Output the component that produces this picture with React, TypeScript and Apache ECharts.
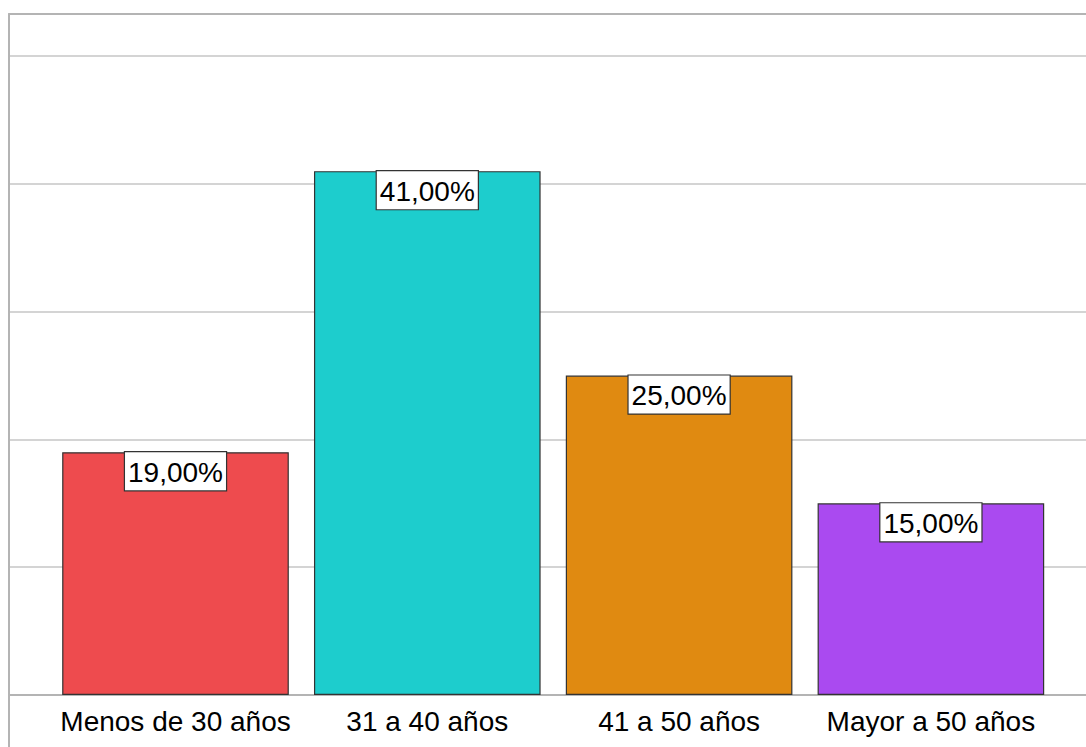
import React, { useEffect, useRef } from "react";
import * as echarts from "echarts";

const categories = ["Menos de 30 años", "31 a 40 años", "41 a 50 años", "Mayor a 50 años"];
const values = [19, 41, 25, 15];
const barColors = ["#EE4B4E", "#1DCDCD", "#E08A11", "#AA4AF0"];
const yMax = 53.3;
const yInterval = 10;

export default function App() {
  const ref = useRef<HTMLDivElement>(null);
  useEffect(() => {
    if (!ref.current) return;
    const chart = echarts.init(ref.current, null, { renderer: "svg" });
    const font = "'Liberation Sans', Arial, sans-serif";
    const frameLine = { show: true, onZero: false, lineStyle: { color: "#b4b4b4", width: 2 } };
    chart.setOption({
      animation: false,
      backgroundColor: "#ffffff",
      grid: [
        // outer frame (top and left only)
        { left: 9, top: 14, width: 1120, height: 760, outerBoundsMode: "none" },
        // gridline area
        { left: 9, top: 14, width: 1120, height: 681, outerBoundsMode: "none" },
        // bars area
        { left: 49.6, top: 14, width: 1007.2, height: 681, outerBoundsMode: "none" },
      ],
      xAxis: [
        {
          gridIndex: 0, type: "value", position: "top", min: 0, max: 1,
          axisLine: frameLine, axisTick: { show: false }, axisLabel: { show: false }, splitLine: { show: false },
        },
        {
          gridIndex: 1, type: "value", min: 0, max: 1,
          axisLine: frameLine,
          axisTick: { show: false }, axisLabel: { show: false }, splitLine: { show: false },
        },
        {
          gridIndex: 2, type: "category", data: categories,
          axisLine: { show: false }, axisTick: { show: false }, splitLine: { show: false },
          axisLabel: { color: "#000", fontFamily: font, fontSize: 28, margin: 12, interval: 0 },
        },
      ],
      yAxis: [
        {
          gridIndex: 0, type: "value", min: 0, max: 1,
          axisLine: frameLine, axisTick: { show: false }, axisLabel: { show: false }, splitLine: { show: false },
        },
        {
          gridIndex: 1, type: "value", min: 0, max: yMax, interval: yInterval,
          axisLine: { show: false }, axisTick: { show: false }, axisLabel: { show: false },
          splitLine: { show: true, showMinLine: false, showMaxLine: false, lineStyle: { color: "#d4d4d4", width: 2 } },
        },
        { gridIndex: 2, type: "value", min: 0, max: yMax, show: false, splitLine: { show: false } },
      ],
      series: [
        {
          type: "bar",
          xAxisIndex: 2,
          yAxisIndex: 2,
          barWidth: "90%",
          data: values.map((v, i) => ({
            value: v,
            itemStyle: { color: barColors[i], borderColor: "#333333", borderWidth: 1.2 },
          })),
          label: {
            show: true,
            position: "insideTop",
            distance: 0,
            formatter: (p: any) => p.value.toFixed(2).replace(".", ",") + "%",
            color: "#000",
            fontFamily: font,
            fontSize: 28,
            backgroundColor: "#ffffff",
            borderColor: "#333333",
            borderWidth: 1.2,
            padding: [6, 3, 4, 3],
          },
        },
      ],
    });
    return () => chart.dispose();
  }, []);
  return (
    <div
      ref={ref}
      style={{ position: "fixed", left: 0, top: 0, width: 1086, height: 747 }}
    />
  );
}
